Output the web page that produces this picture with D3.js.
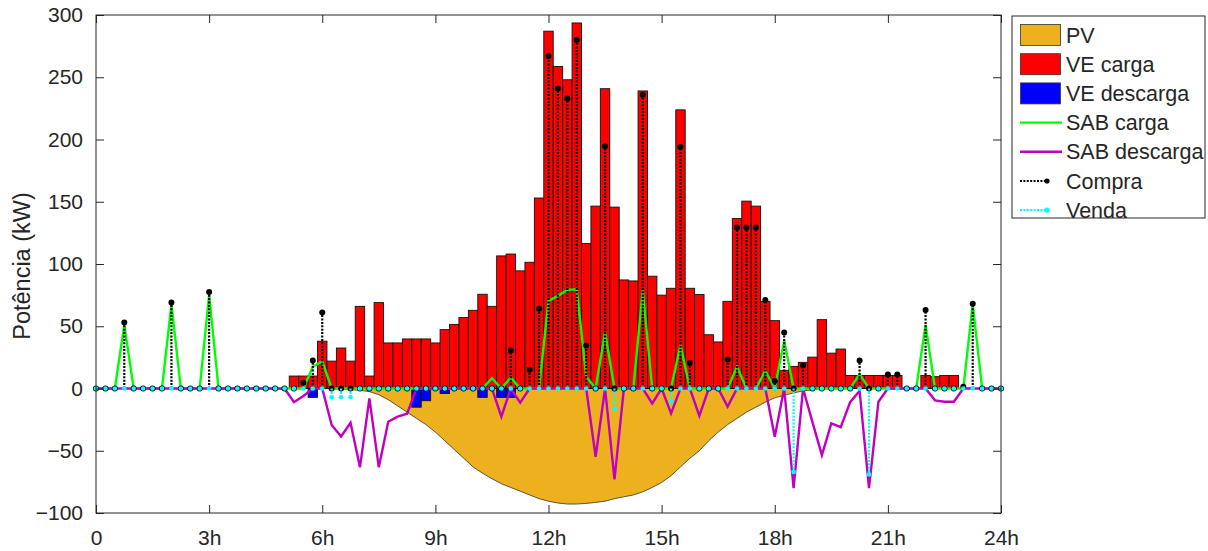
<!DOCTYPE html>
<html>
<head>
<meta charset="utf-8">
<script src="https://cdn.jsdelivr.net/npm/d3@7"></script>
<style>
  body { margin: 0; background: #fff; }
  text { font-family: "Liberation Sans", Arial, sans-serif; fill: #262626; }
</style>
</head>
<body>
<div id="chart"></div>
<script>
// 15 minute steps, k = 0..96 -> 0h..24h
var stepHours = 0.25;
var xTicks = [0, 3, 6, 9, 12, 15, 18, 21, 24];
var xTickLabels = ['0', '3h', '6h', '9h', '12h', '15h', '18h', '21h', '24h'];
var yTicks = [-100, -50, 0, 50, 100, 150, 200, 250, 300];

// PV (negative = generation)
var pv = [
  0, 0, 0, 0, 0, 0, 0, 0,
  0, 0, 0, 0, 0, 0, 0, 0,
  0, 0, 0, 0, 0, 0, 0, 0,
  0, -0.2, -0.5, -1, -1.5, -2.5, -5, -9,
  -14, -19, -24, -29, -35, -42, -49, -56,
  -63, -68, -72.5, -76.5, -79.5, -82.5, -85.5, -88.5,
  -90.5, -92, -92.8, -92.8, -92.3, -91.5, -90.5, -88.5,
  -87, -85.5, -83, -79.5, -75.5, -70, -63, -56,
  -50, -42, -35, -29, -24, -19, -15, -11,
  -7.5, -5.5, -3.5, -2, -1, -0.5, 0, 0,
  0, 0, 0, 0, 0, 0, 0, 0,
  0, 0, 0, 0, 0, 0, 0, 0,
  0
];

var veCarga = [
  0, 0, 0, 0, 0, 0, 0, 0,
  0, 0, 0, 0, 0, 0, 0, 0,
  0, 0, 0, 0, 0, 10, 10, 10,
  38, 22, 32.5, 22, 66, 10, 69, 36.6,
  36.6, 39.8, 39.8, 39.8, 36.6, 47.3, 51.5, 57,
  62.8, 75.7, 66, 106.5, 108, 94.5, 101.4, 153,
  287, 258.7, 248, 293.6, 116.4, 146.5, 240.8, 145.7,
  87.2, 86.4, 239, 90.2, 75, 80.5, 223.8, 80.5,
  75.5, 43.2, 37.4, 70, 136.5, 150.5, 146.5, 70,
  54.5, 14.6, 17.8, 21, 25.2, 55.3, 28.4, 31.7,
  10.5, 10.5, 10.5, 10.5, 10.5, 10.5, 0, 0,
  10.5, 9.5, 10.5, 10.5, 0, 0, 0, 0,
  0
];

var veDescarga = [
  0, 0, 0, 0, 0, 0, 0, 0,
  0, 0, 0, 0, 0, 0, 0, 0,
  0, 0, 0, 0, 0, 0, 0, -7.1,
  0, 0, 0, 0, 0, 0, 0, 0,
  0, 0, -15, -9.8, 0, -4, 0, 0,
  0, -7.1, 0, -7.1, -7.1, 0, 0, 0,
  0, 0, 0, 0, 0, 0, 0, 0,
  0, 0, 0, 0, 0, 0, 0, 0,
  0, 0, 0, 0, 0, 0, 0, 0,
  0, 0, 0, 0, 0, 0, 0, 0,
  0, 0, 0, 0, 0, 0, 0, 0,
  0, 0, 0, 0, 0, 0, 0, 0,
  0
];

var sabCarga = [
  0, 0, 0, 51, 0, 0, 0, 0,
  67.5, 0, 0, 0, 75.5, 0, 0, 0,
  0, 0, 0, 0, 0, 0, 0, 17.5,
  22, 0, 0, 0, 0, 0, 0, 0,
  0, 0, 0, 0, 0, 0, 0, 0,
  0, 0, 8.2, 0, 8.7, 0, 0, 0,
  70.3, 74.4, 79.2, 79.7, 9.5, 0, 45, 0,
  0, 0, 78.8, 0, 0, 0, 35, 0,
  0, 0, 0, 0, 17.5, 0, 0, 14.3,
  0, 38.5, 0, 0, 0, 0, 0, 0,
  0, 11.5, 0, 0, 0, 0, 0, 0,
  51, 0, 0, 0, 0, 67.5, 0, 0,
  0
];

var sabDescarga = [
  0, 0, 0, 0, 0, 0, 0, 0,
  0, 0, 0, 0, 0, 0, 0, 0,
  0, 0, 0, 0, 0, -11, -6, 0,
  0, -29.3, -38.5, -27.5, -63.3, -7.9, -63.3, -26.7,
  -22.6, -20.3, 0, 0, 0, 0, 0, 0,
  0, 0, 0, -22.6, 0, -11.4, 0, 0,
  0, 0, 0, 0, 0, -54.8, 0, -73,
  0, 0, 0, -12, 0, -20, 0, 0,
  -22, 0, 0, -14.5, 0, 0, 0, 0,
  -38.7, 0, -80, 0, -27, -53.5, -28, -31,
  -11, -2, -80, -10.6, 0, 0, 0, 0,
  0, -9.5, -10.6, -10.6, 0, 0, 0, 0,
  0
];

var compra = [
  0, 0, 0, 53, 0, 0, 0, 0,
  69, 0, 0, 0, 77.5, 0, 0, 0,
  0, 0, 0, 0, 0, 0, 4.7, 22.4,
  61, 0, 0, 0, 0, 0, 0, 0,
  0, 0, 0, 0, 0, 0, 0, 0,
  0, 0, 0, 0, 30.5, 0, 15, 64,
  267, 241, 233, 280, 34.5, 0, 194.5, 0,
  0, 0, 236, 0, 0, 0, 194, 20.5,
  0, 0, 0, 23.3, 129.3, 129.3, 129.3, 71,
  6, 45, 0, 18.5, 0, 0, 0, 0,
  0, 22.4, 0, 0, 11.2, 11.2, 0, 0,
  63, 0, 0, 0, 1.5, 68, 0, 0,
  0
];

var venda = [
  0, 0, 0, 0, 0, 0, 0, 0,
  0, 0, 0, 0, 0, 0, 0, 0,
  0, 0, 0, 0, 0, 0, 0, 0,
  0, -7, -7, -7, 0, 0, 0, 0,
  0, 0, 0, 0, 0, 0, 0, 0,
  0, 0, 0, 0, 0, 0, 0, 0,
  0, 0, 0, 0, 0, 0, 0, -16.5,
  0, 0, 0, 0, 0, -10.5, 0, 0,
  0, 0, 0, 0, 0, 0, 0, 0,
  0, 0, -67, 0, 0, 0, 0, 0,
  0, 0, -69, 0, 0, 0, 0, 0,
  0, 0, 0, 0, 0, 0, 0, 0,
  0
];

var colors = {
  pv: '#EDB120',
  veCarga: '#FF0000',
  veDescarga: '#0000FF',
  sabCarga: '#00FF00',
  sabDescarga: '#C000C0',
  compra: '#000000',
  venda: '#00FFFF'
};

var width = 1208, height = 551;
var plot = { left: 96, right: 1001, top: 15, bottom: 513 };

var svg = d3.select('#chart').append('svg')
            .attr('width', width)
            .attr('height', height);

svg.append('rect').attr('width', width).attr('height', height).attr('fill', '#fff');

var x = d3.scaleLinear().domain([0, 24]).range([plot.left, plot.right]);
var y = d3.scaleLinear().domain([-100, 300]).range([plot.bottom, plot.top]);

function hourOf(i) { return i * stepHours; }

// PV area
svg.append('path')
   .datum(pv)
   .attr('fill', colors.pv)
   .attr('stroke', '#3a3320')
   .attr('stroke-width', 0.8)
   .attr('d', d3.area()
     .x(function(d, i) { return x(hourOf(i)); })
     .y0(y(0))
     .y1(function(d) { return y(d); }));

// EV bars (bar width = one step)
function drawBars(values, color) {
  var half = stepHours / 2;
  svg.append('g').selectAll('rect')
     .data(values.map(function(v, i) { return { i: i, v: v }; })
                 .filter(function(d) { return d.v !== 0; }))
     .enter().append('rect')
     .attr('x', function(d) { return x(hourOf(d.i) - half); })
     .attr('width', function(d) { return x(hourOf(d.i) + half) - x(hourOf(d.i) - half); })
     .attr('y', function(d) { return y(Math.max(0, d.v)); })
     .attr('height', function(d) { return Math.abs(y(d.v) - y(0)); })
     .attr('fill', color)
     .attr('stroke', '#111')
     .attr('stroke-width', 0.9);
}
drawBars(veCarga, colors.veCarga);
drawBars(veDescarga, colors.veDescarga);

// battery lines
var line = d3.line()
             .x(function(d, i) { return x(hourOf(i)); })
             .y(function(d) { return y(d); });

[[sabCarga, colors.sabCarga], [sabDescarga, colors.sabDescarga]].forEach(function(s) {
  svg.append('path')
     .datum(s[0])
     .attr('fill', 'none')
     .attr('stroke', s[1])
     .attr('stroke-width', 2.4)
     .attr('d', line);
});

// grid purchase / sale as dotted stems
function drawStems(values, color, r) {
  var g = svg.append('g');
  var pts = values.map(function(v, i) { return { i: i, v: v }; });
  g.selectAll('line')
   .data(pts.filter(function(d) { return d.v !== 0; }))
   .enter().append('line')
   .attr('x1', function(d) { return x(hourOf(d.i)); })
   .attr('x2', function(d) { return x(hourOf(d.i)); })
   .attr('y1', y(0))
   .attr('y2', function(d) { return y(d.v); })
   .attr('stroke', color)
   .attr('stroke-width', 2.2)
   .attr('stroke-dasharray', '2,1.4');
  g.selectAll('circle')
   .data(pts)
   .enter().append('circle')
   .attr('cx', function(d) { return x(hourOf(d.i)); })
   .attr('cy', function(d) { return y(d.v); })
   .attr('r', r)
   .attr('fill', color);
}
drawStems(compra, colors.compra, 3);
drawStems(venda, colors.venda, 2.3);

// axes box + ticks (inside, on all four sides)
var axisColor = '#262626';
var tickLen = 8;

svg.append('g')
   .attr('transform', 'translate(0,' + plot.bottom + ')')
   .call(d3.axisBottom(x)
     .tickValues(xTicks)
     .tickSizeInner(-tickLen)
     .tickSizeOuter(0)
     .tickPadding(17)
     .tickFormat(function(d, i) { return xTickLabels[i]; }));

svg.append('g')
   .attr('transform', 'translate(' + plot.left + ',0)')
   .call(d3.axisLeft(y)
     .tickValues(yTicks)
     .tickSizeInner(-tickLen)
     .tickSizeOuter(0)
     .tickPadding(13));

svg.append('g')
   .attr('transform', 'translate(0,' + plot.top + ')')
   .call(d3.axisTop(x).tickValues(xTicks).tickSizeInner(-tickLen).tickSizeOuter(0).tickFormat(''));

svg.append('g')
   .attr('transform', 'translate(' + plot.right + ',0)')
   .call(d3.axisRight(y).tickValues(yTicks).tickSizeInner(-tickLen).tickSizeOuter(0).tickFormat(''));

svg.selectAll('.domain').remove();
svg.selectAll('.tick line').attr('stroke', axisColor);
svg.selectAll('.tick text')
   .style('font-size', '21px')
   .style('font-family', '"Liberation Sans", Arial, sans-serif')
   .attr('fill', axisColor);

svg.append('rect')
   .attr('x', plot.left).attr('y', plot.top)
   .attr('width', plot.right - plot.left)
   .attr('height', plot.bottom - plot.top)
   .attr('fill', 'none')
   .attr('stroke', axisColor)
   .attr('stroke-width', 1);

svg.append('text')
   .attr('transform', 'translate(22,266) rotate(-90)')
   .attr('text-anchor', 'middle')
   .attr('dy', '0.35em')
   .style('font-size', '23.5px')
   .text('Potência (kW)');

// legend
var legendItems = [
  { name: 'PV', type: 'patch', color: colors.pv },
  { name: 'VE carga', type: 'patch', color: colors.veCarga },
  { name: 'VE descarga', type: 'patch', color: colors.veDescarga },
  { name: 'SAB carga', type: 'line', color: colors.sabCarga },
  { name: 'SAB descarga', type: 'line', color: colors.sabDescarga },
  { name: 'Compra', type: 'stem', color: colors.compra },
  { name: 'Venda', type: 'stem', color: colors.venda }
];

var legend = svg.append('g').attr('transform', 'translate(1012,16)');
legend.append('rect')
      .attr('width', 193).attr('height', 202)
      .attr('fill', '#fff')
      .attr('stroke', axisColor)
      .attr('stroke-width', 1);

legendItems.forEach(function(item, i) {
  var cy = 19 + i * 29.2;
  var g = legend.append('g').attr('transform', 'translate(0,' + cy + ')');
  if (item.type === 'patch') {
    g.append('rect')
     .attr('x', 8.5).attr('y', -10.5)
     .attr('width', 40).attr('height', 21)
     .attr('fill', item.color)
     .attr('stroke', '#333')
     .attr('stroke-width', 0.8);
  } else if (item.type === 'line') {
    g.append('line')
     .attr('x1', 8).attr('x2', 50)
     .attr('stroke', item.color)
     .attr('stroke-width', 2.4);
  } else {
    g.append('line')
     .attr('x1', 8).attr('x2', 35)
     .attr('stroke', item.color)
     .attr('stroke-width', 2.2)
     .attr('stroke-dasharray', '2,1.4');
    g.append('circle')
     .attr('cx', 35).attr('r', 2.6)
     .attr('fill', item.color);
  }
  g.append('text')
   .attr('x', 54)
   .attr('dy', '0.35em')
   .style('font-size', '21.5px')
   .text(item.name);
});
</script>
</body>
</html>
